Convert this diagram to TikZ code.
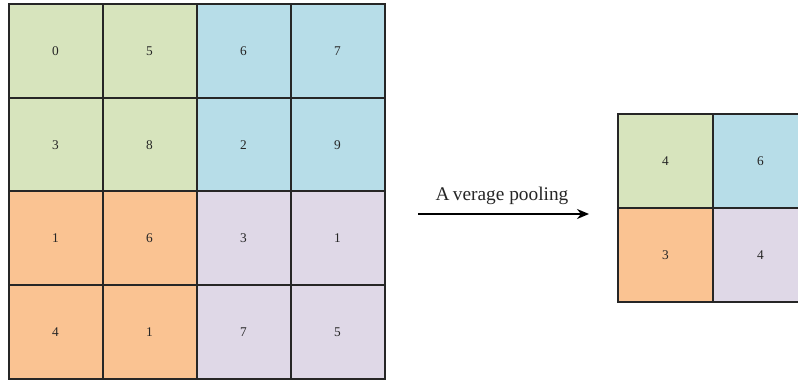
\documentclass[tikz,border=0pt]{standalone}
\usepackage{fontspec}
\setmainfont{Liberation Serif}
\usetikzlibrary{arrows.meta}
\definecolor{cgreen}{HTML}{D7E4BD}
\definecolor{cblue}{HTML}{B7DDE8}
\definecolor{corange}{HTML}{FAC392}
\definecolor{cpurple}{HTML}{DFD8E7}
\definecolor{cline}{HTML}{262626}
\tikzset{
  cell/.style={draw=cline, line width=1.5pt, minimum width=70.5pt, minimum height=70.2pt, inner sep=0pt, font=\fontsize{10}{11}\selectfont, text=black!85},
  scell/.style={draw=cline, line width=1.5pt, minimum width=71.25pt, minimum height=70.5pt, inner sep=0pt, font=\fontsize{10}{11}\selectfont, text=black!85},
}
\begin{document}
\begin{tikzpicture}[x=0.75pt,y=-0.75pt]
\clip (0,0) rectangle (798,381);
\useasboundingbox (0,0) rectangle (798,381);
% big grid
\foreach \r/\yy/\cl/\cr/\a/\b/\c/\d in {1/51.25/cgreen/cblue/0/5/6/7, 2/144.75/cgreen/cblue/3/8/2/9, 3/238.25/corange/cpurple/1/6/3/1, 4/331.75/corange/cpurple/4/1/7/5}{
  \node[cell, fill=\cl] (a\r1) at (55.5,\yy) {\a};
  \node[cell, fill=\cl] (a\r2) at (149.5,\yy) {\b};
  \node[cell, fill=\cr] (a\r3) at (243.5,\yy) {\c};
  \node[cell, fill=\cr] (a\r4) at (337.5,\yy) {\d};
}
% small grid
\node[scell, fill=cgreen] (b11) at (665.5,161) {4};
\node[scell, fill=cblue] (b12) at (760.5,161) {6};
\node[scell, fill=corange] (b21) at (665.5,255) {3};
\node[scell, fill=cpurple] (b22) at (760.5,255) {4};
% arrow
\coordinate (s) at (418,214);
\coordinate (e) at (589,214);
\draw[line width=1.3pt, -{Stealth[length=9pt,width=7.5pt]}] (s) -- (e);
\node[anchor=base, font=\fontsize{14.5}{16}\selectfont, text=black!85, inner sep=0pt] (lbl) at (502,200) {A\kern2.5pt verage pooling};
\end{tikzpicture}
\end{document}
